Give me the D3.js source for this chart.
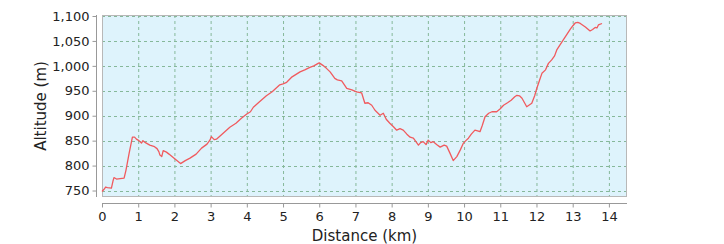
<!DOCTYPE html>
<html>
<head>
<meta charset="utf-8">
<script src="https://cdn.jsdelivr.net/npm/d3@7"></script>
<style>
  body { margin: 0; background: #fff; }
  text { font-family: "DejaVu Sans", sans-serif; fill: #222; }
</style>
</head>
<body>
<svg width="724" height="244"></svg>
<script>
// distance in km, altitude in m
const distKm = [0, 0.05, 0.1, 0.15, 0.26, 0.3, 0.33, 0.4, 0.5, 0.61, 0.66, 0.75, 0.84, 0.9, 0.95,
  1.02, 1.09, 1.13, 1.2, 1.32, 1.45, 1.52, 1.57, 1.6, 1.65, 1.69, 1.78, 1.85, 2.0, 2.17,
  2.3, 2.43, 2.6, 2.75, 2.9, 2.98, 3.02, 3.1, 3.16, 3.3, 3.53, 3.7, 3.85, 3.99, 4.1, 4.18,
  4.35, 4.54, 4.7, 4.91, 5.0, 5.1, 5.25, 5.47, 5.6, 5.74, 5.85, 5.97, 6.0, 6.1, 6.2, 6.3,
  6.43, 6.5, 6.62, 6.76, 6.9, 7.03, 7.17, 7.26, 7.35, 7.45, 7.54, 7.68, 7.77, 7.85, 7.95,
  8.05, 8.14, 8.23, 8.32, 8.42, 8.51, 8.6, 8.67, 8.74, 8.8, 8.87, 8.95, 9.01, 9.08, 9.15,
  9.25, 9.34, 9.45, 9.52, 9.61, 9.7, 9.8, 9.9, 9.98, 10.05, 10.12, 10.2, 10.3, 10.35, 10.44,
  10.5, 10.58, 10.68, 10.77, 10.9, 11.0, 11.09, 11.2, 11.3, 11.4, 11.46, 11.53, 11.6, 11.73,
  11.87, 11.95, 12.01, 12.08, 12.15, 12.25, 12.33, 12.42, 12.5, 12.56, 12.65, 12.74, 12.84,
  12.93, 13.0, 13.07, 13.14, 13.21, 13.35, 13.48, 13.55, 13.62, 13.67, 13.71, 13.81];
const altitudeM = [748, 752, 757, 756, 755, 768, 776, 773, 774, 775, 790, 825, 857, 857, 853,
  850, 845, 850, 846, 841, 838, 834, 828, 821, 818, 830, 827, 823, 814, 804,
  810, 815, 823, 835, 843, 851, 858, 852, 853, 862, 877, 885, 895, 903, 908, 917,
  928, 940, 948, 962, 964, 967, 978, 988, 992, 997, 1000, 1005, 1006, 1001, 995, 988,
  975, 972, 970, 955, 952, 948, 946, 925, 926, 921, 911, 901, 905, 893, 885,
  878, 871, 874, 871, 863, 857, 855, 848, 841, 846, 848, 842, 851, 846, 848,
  842, 837, 841, 839, 825, 810, 818, 832, 845, 850, 855, 863, 871, 870, 868,
  880, 898, 905, 908, 908, 914, 921, 926, 931, 938, 941, 940, 935, 918,
  925, 940, 955, 970, 985, 992, 1005, 1012, 1020, 1032, 1042, 1052, 1063,
  1073, 1080, 1086, 1087, 1085, 1078, 1070, 1073, 1077, 1076, 1082, 1085];

const xTicks = d3.range(0, 15);
const yTicks = [750, 800, 850, 900, 950, 1000, 1050, 1100];

const plot = { left: 102, right: 627, top: 15, bottom: 197 };
const svg = d3.select("svg");

const x = d3.scaleLinear().domain([0, 14.5]).range([plot.left, plot.right]);
const y = d3.scaleLinear().domain([737, 1102]).range([plot.bottom, plot.top]);

// plot background
svg.append("rect")
  .attr("x", plot.left).attr("y", plot.top)
  .attr("width", plot.right - plot.left).attr("height", plot.bottom - plot.top)
  .attr("fill", "#def3fc");

// grid
svg.append("g").selectAll("line").data(xTicks).join("line")
  .attr("x1", d => x(d) + 0.5).attr("x2", d => x(d) + 0.5)
  .attr("y1", plot.top).attr("y2", plot.bottom)
  .attr("stroke", "#86b89a").attr("stroke-dasharray", "3,3");
svg.append("g").selectAll("line").data(yTicks).join("line")
  .attr("x1", plot.left).attr("x2", plot.right)
  .attr("y1", d => Math.round(y(d)) + 0.5).attr("y2", d => Math.round(y(d)) + 0.5)
  .attr("stroke", "#86b89a").attr("stroke-dasharray", "3,3");

// plot border
svg.append("rect")
  .attr("x", plot.left + 0.5).attr("y", plot.top + 0.5)
  .attr("width", plot.right - plot.left - 1).attr("height", plot.bottom - plot.top - 1)
  .attr("fill", "none").attr("stroke", "#b8b8b8");

// altitude line
const line = d3.line()
  .x((d, i) => x(distKm[i]))
  .y(d => y(d));
svg.append("path")
  .datum(altitudeM)
  .attr("fill", "none")
  .attr("stroke", "#f05a5e")
  .attr("stroke-width", 1.3)
  .attr("stroke-linejoin", "round")
  .attr("d", line);

// X axis
const xAxis = svg.append("g")
  .attr("transform", `translate(0,203.5)`)
  .call(d3.axisBottom(x).tickValues(xTicks).tickSize(4).tickPadding(4).tickSizeOuter(0));
xAxis.select(".domain").attr("stroke", "#999").attr("d", `M${plot.left},0H${plot.right}`);
xAxis.selectAll(".tick line").attr("stroke", "#999");
xAxis.selectAll("text").style("font-size", "13px").attr("fill", "#222");

// Y axis
const yAxis = svg.append("g")
  .attr("transform", `translate(96.5,0)`)
  .call(d3.axisLeft(y).tickValues(yTicks).tickSize(4).tickPadding(3)
    .tickFormat(d3.format(",")).tickSizeOuter(0));
yAxis.select(".domain").attr("stroke", "#999").attr("d", `M0,${plot.top}V${plot.bottom}`);
yAxis.selectAll(".tick line").attr("stroke", "#999");
yAxis.selectAll("text").style("font-size", "13px").attr("fill", "#222");

// axis titles
svg.append("text")
  .attr("x", (plot.left + plot.right) / 2)
  .attr("y", 241)
  .attr("text-anchor", "middle")
  .style("font-size", "15px")
  .text("Distance (km)");

svg.append("text")
  .attr("transform", `translate(46,${(plot.top + plot.bottom) / 2}) rotate(-90)`)
  .attr("text-anchor", "middle")
  .style("font-size", "15px")
  .text("Altitude (m)");
</script>
</body>
</html>
